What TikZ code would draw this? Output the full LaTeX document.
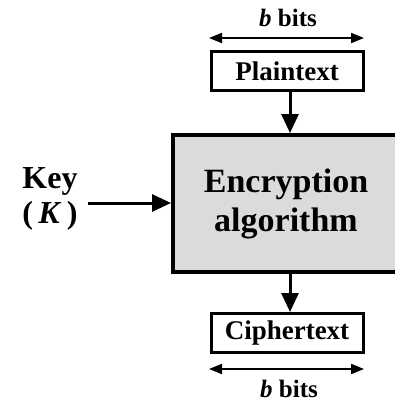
\documentclass[tikz,border=0pt]{standalone}
\usepackage{fontspec}
\setmainfont{Liberation Serif}
\usetikzlibrary{arrows.meta}
\begin{document}
\begin{tikzpicture}[x=1pt,y=-1pt,
  every node/.style={font=\bfseries},
  smallbox/.style={draw, line width=3pt, minimum width=152pt, minimum height=39pt, inner sep=0pt, font=\fontsize{27}{29}\selectfont\bfseries},
  flow/.style={line width=3pt, -{Triangle[length=19pt,width=17pt]}},
  span/.style={line width=2pt, {Triangle[length=13pt,width=10pt]}-{Triangle[length=13pt,width=10pt]}},
  lbl/.style={font=\fontsize{25}{27}\selectfont\bfseries}]
\useasboundingbox (0,0) rectangle (395,402);
\fill[white] (0,0) rectangle (395,402);
% main box
\node[draw, line width=4pt, fill=black!14, minimum width=226pt, minimum height=137pt, inner sep=0pt,
  align=center, font=\fontsize{34}{39}\selectfont\bfseries] (alg) at (286,203.5) {Encryption\\algorithm};
% plaintext / ciphertext
\node[smallbox] (pt) at (287,71) {Plaintext};
\node[smallbox] (ct) at (287,333) {Ciphertext};
\draw[flow] (290,0 |- pt.south) -- (290,0 |- alg.north);
\draw[flow] (290,0 |- alg.south) -- (290,0 |- ct.north);
% spans
\coordinate (tl) at (209,38); \coordinate (tr) at (364,38);
\coordinate (bl) at (209,369); \coordinate (br) at (364,369);
\draw[span] (tl) -- (tr);
\draw[span] (bl) -- (br);
\node[lbl] (bt) at (288,18) {\textit{b} bits};
\node[lbl] (bb) at (289,389) {\textit{b} bits};
% key
\node[font=\fontsize{32}{34}\selectfont\bfseries] (key) at (50,181) {Key};
\node[font=\fontsize{32}{34}\selectfont\bfseries] (kk) at (50,216) {(\,\textit{K}\,)};
\coordinate (kstart) at (88,203);
\draw[flow] (kstart) -- (kstart -| alg.west);
\end{tikzpicture}
\end{document}
